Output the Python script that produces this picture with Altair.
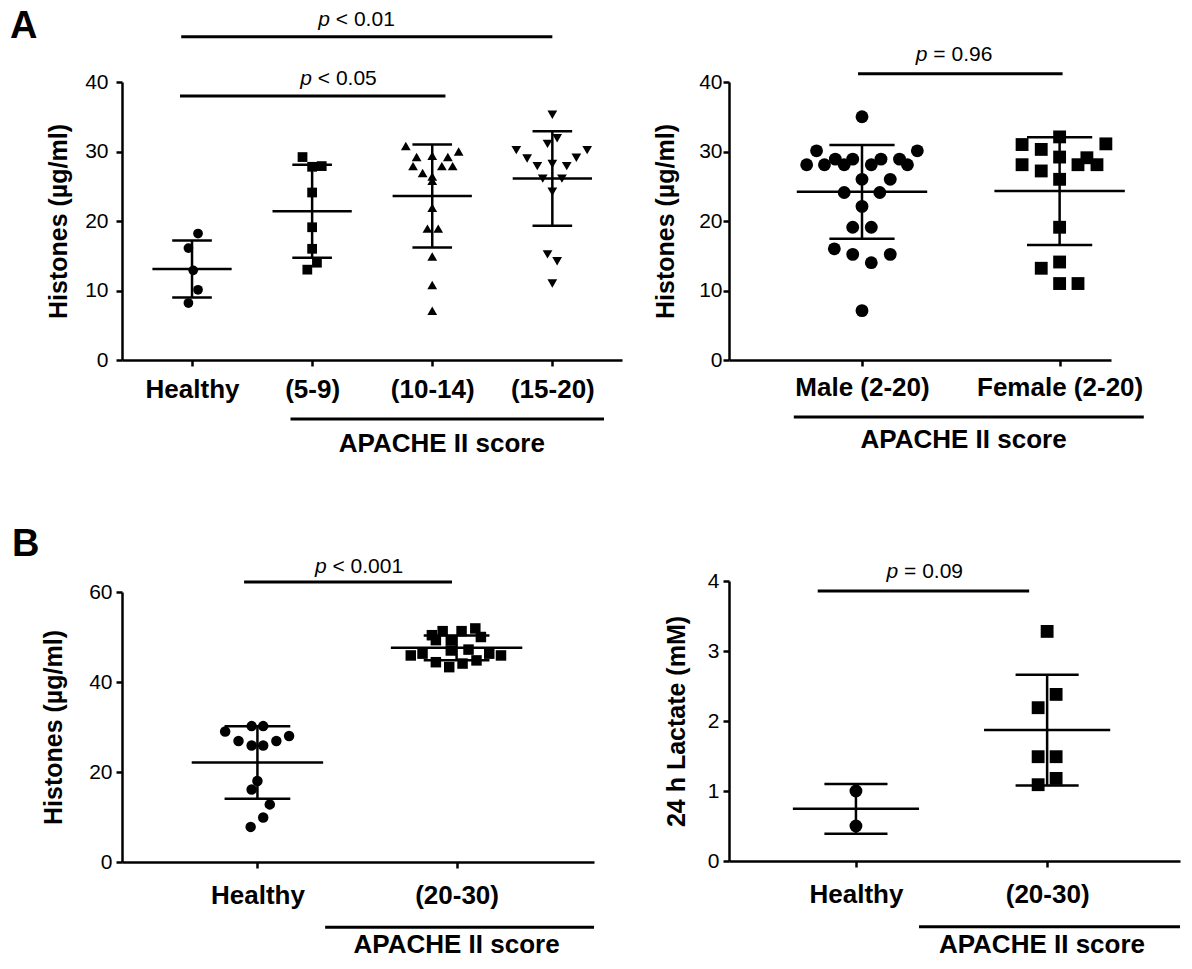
import altair as alt
import pandas as pd

FONT = "Liberation Sans"

# ---------------- Panel A (left): APACHE II groups ----------------
al_cats = ["Healthy", "(5-9)", "(10-14)", "(15-20)"]
al_vals = [
    [18.2, 16.1, 12.9, 10.1, 8.2],
    [29.2, 27.8, 27.9, 24.1, 19.1, 16.0, 14.0, 13.0],
    [30.8, 30.0, 29.4, 29.2, 29.2, 27.9, 27.9, 27.9, 26.9, 26.4, 25.8, 21.9, 18.9, 18.9, 14.9, 10.8, 7.1],
    [35.3, 31.1, 31.9, 30.2, 30.2, 29.0, 29.1, 27.9, 28.2, 27.9, 26.1, 26.1, 24.2, 15.2, 14.2, 11.0],
]
al_jit = [
    [0.05, -0.03, 0.01, 0.05, -0.03],
    [-0.08, 0.0, 0.08, 0.0, 0.0, 0.0, 0.04, -0.04],
    [-0.22, 0.22, 0.0, -0.13, 0.13, -0.16, 0.08, 0.17, -0.08, 0.0, 0.0, 0.0, -0.04, 0.05, 0.0, 0.0, 0.0],
    [0.0, -0.04, 0.04, -0.30, 0.29, -0.21, 0.20, -0.125, 0.0, 0.12, -0.08, 0.08, 0.0, -0.04, 0.04, 0.0],
]
al_mean = [13.1, 21.4, 23.6, 26.1]
al_sd = [4.1, 6.7, 7.4, 6.8]
al_shapes = ["circle", "square", "triangle-up", "triangle-down"]
al_sig = [("< 0.01", -0.09, 3.0, 46.5, 1.37, 48.1), ("< 0.05", -0.10, 2.11, 38.0, 1.22, 39.6)]
al_apache = (0.82, 3.43, -8.5, 2.08, -13.2)

# ---------------- Panel A (right): sex ----------------
ar_cats = ["Male (2-20)", "Female (2-20)"]
ar_vals = [
    [35.0, 30.1, 30.1, 28.1, 28.1, 28.9, 28.1, 28.9, 28.1, 28.9, 28.9, 28.1, 26.0, 26.0, 24.1, 24.1,
     22.1, 19.1, 19.1, 16.0, 15.2, 15.2, 14.0, 7.1],
    [32.1, 31.0, 31.1, 30.3, 29.2, 28.1, 27.2, 26.0, 28.1, 29.1, 28.1, 19.1, 14.1, 13.2, 11.0, 11.0],
]
ar_jit = [
    [0.0, -0.23, 0.28, -0.28, -0.19, -0.135, -0.09, -0.047, 0.047, 0.096, 0.19, 0.23, 0.0, 0.143, -0.09, 0.09,
     0.0, -0.047, 0.047, -0.14, -0.047, 0.143, 0.047, 0.0],
    [0.0, -0.19, 0.234, -0.093, 0.0, -0.19, -0.093, 0.0, 0.093, 0.138, 0.189, 0.0, 0.0, -0.093, 0.0, 0.093],
]
ar_mean = [24.2, 24.3]
ar_sd = [6.75, 7.75]
ar_shapes = ["circle", "square"]
ar_sig = [("= 0.96", -0.02, 1.015, 41.2, 0.466, 43.0)]
ar_apache = (-0.345, 1.426, -8.2, 0.514, -12.6)

# ---------------- Panel B (left): histones ----------------
bl_cats = ["Healthy", "(20-30)"]
bl_vals = [
    [29.0, 30.2, 30.2, 28.0, 26.9, 25.9, 25.9, 26.9, 18.0, 16.1, 12.8, 9.9, 7.8],
    [50.4, 51.3, 51.3, 51.9, 49.3, 49.3, 50.0, 47.0, 47.2, 45.9, 46.3, 44.4, 43.3, 44.1, 44.8, 46.3, 45.9],
]
bl_jit = [
    [-0.162, -0.029, 0.029, 0.159, -0.095, -0.029, 0.029, 0.095, 0.0, -0.029, 0.062, 0.029, -0.034],
    [-0.124, -0.07, 0.025, 0.094, -0.104, -0.029, 0.122, -0.029, 0.06, -0.23, -0.171, -0.104, -0.037, 0.03,
     0.1, 0.164, 0.223],
]
bl_mean = [22.1, 47.6]
bl_sd = [8.05, 2.75]
bl_shapes = ["circle", "square"]
bl_sig = [("< 0.001", -0.067, 0.977, 62.2, 0.51, 64.2)]
bl_apache = (0.34, 1.69, -14.5, 1.0, -20.2)

# ---------------- Panel B (right): lactate ----------------
br_cats = ["Healthy", "(20-30)"]
br_vals = [
    [1.0, 0.5],
    [3.28, 2.38, 2.19, 1.49, 1.49, 1.18, 1.09],
]
br_jit = [
    [0.0, 0.0],
    [0.0, 0.047, -0.047, -0.047, 0.047, 0.047, -0.047],
]
br_mean = [0.745, 1.87]
br_sd = [0.355, 0.79]
br_shapes = ["circle", "square"]
br_sig = [("= 0.09", -0.20, 0.906, 3.856, 0.36, 4.04)]
br_apache = (0.33, 1.695, -0.94, 0.973, -1.31)

CW = {"p": 0.556, " ": 0.278, "<": 0.584, "=": 0.584, ".": 0.278}
PFS = 21
BFS = 26


def text_w(s, fs):
    return sum(CW.get(c, 0.556) for c in s) * fs


def panel(cats, vals, jit, means, sds, shapes, msize, xdom, ydom, yticks, w, h,
          ytitle, ylpad, ytpad, xlpad, sigs, apache, letter=None):
    rows = []
    for i, (vs, js) in enumerate(zip(vals, jit)):
        for v, j in zip(vs, js):
            rows.append({"x": i + j, "v": v, "g": cats[i], "shp": shapes[i]})
    pts = pd.DataFrame(rows)
    st = pd.DataFrame({
        "i": list(range(len(cats))),
        "mean": means,
        "lo": [m - s for m, s in zip(means, sds)],
        "hi": [m + s for m, s in zip(means, sds)],
    })
    st["xl"] = st["i"] - 0.33
    st["xr"] = st["i"] + 0.33
    st["cl"] = st["i"] - 0.165
    st["cr"] = st["i"] + 0.165
    caps = pd.concat([st.assign(c=st["lo"]), st.assign(c=st["hi"])])

    xs = alt.Scale(domain=xdom, nice=False, zero=False)
    ys = alt.Scale(domain=ydom, nice=False, zero=False)
    names = "[" + ",".join("'" + c + "'" for c in cats) + "]"
    xax = alt.Axis(values=list(range(len(cats))), labelExpr=names + "[datum.value]", title=None,
                   grid=False, labelPadding=xlpad, labelFlush=False, labelOverlap=False)
    yax = alt.Axis(values=yticks, title=ytitle, grid=False, labelPadding=ylpad, titlePadding=ytpad)

    def X(f):
        return alt.X(f, type="quantitative", scale=xs, axis=xax)

    def Y(f):
        return alt.Y(f, type="quantitative", scale=ys, axis=yax)

    layers = []
    layers.append(alt.Chart(pts).mark_point(filled=True, color="black", opacity=1, size=msize).encode(
        x=X("x"), y=Y("v"),
        shape=alt.Shape("shp:N", scale=None, legend=None)))
    layers.append(alt.Chart(st).mark_rule(color="black", strokeWidth=2.5).encode(
        x=X("xl"), x2="xr", y=Y("mean")))
    layers.append(alt.Chart(caps).mark_rule(color="black", strokeWidth=2.5).encode(
        x=X("cl"), x2="cr", y=Y("c")))
    layers.append(alt.Chart(st).mark_rule(color="black", strokeWidth=2.5).encode(
        x=X("i"), y=Y("lo"), y2="hi"))

    sg = pd.DataFrame([{"rest": s[0], "x1": s[1], "x2": s[2], "y": s[3], "tx": s[4], "ty": s[5]} for s in sigs])
    layers.append(alt.Chart(sg).mark_rule(color="black", strokeWidth=3).encode(
        x=X("x1"), x2="x2", y=Y("y")))
    rest = sigs[0][0]
    total = text_w("p " + rest, PFS)
    dxp = -total / 2 + CW["p"] * PFS
    layers.append(alt.Chart(sg).mark_text(text="p", fontStyle="italic", font=FONT, fontSize=PFS,
                                          align="right", baseline="alphabetic", dx=dxp, color="black").encode(
        x=X("tx"), y=Y("ty")))
    layers.append(alt.Chart(sg).mark_text(font=FONT, fontSize=PFS, align="left", baseline="alphabetic",
                                          dx=dxp + CW[" "] * PFS, color="black").encode(
        x=X("tx"), y=Y("ty"), text="rest:N"))

    ap = pd.DataFrame([{"x1": apache[0], "x2": apache[1], "y": apache[2], "tx": apache[3], "ty": apache[4],
                        "t": "APACHE II score"}])
    layers.append(alt.Chart(ap).mark_rule(color="black", strokeWidth=3).encode(
        x=X("x1"), x2="x2", y=Y("y")))
    layers.append(alt.Chart(ap).mark_text(font=FONT, fontSize=BFS, fontWeight="bold", align="center",
                                          baseline="alphabetic", color="black").encode(
        x=X("tx"), y=Y("ty"), text="t:N"))
    if letter is not None:
        lt = pd.DataFrame([{"t": letter[0]}])
        layers.append(alt.Chart(lt).mark_text(font=FONT, fontSize=38, fontWeight="bold", align="left",
                                              baseline="alphabetic", color="black").encode(
            x=alt.value(letter[1]), y=alt.value(letter[2]), text="t:N"))
    return alt.layer(*layers).properties(width=w, height=h)


AL = panel(al_cats, al_vals, al_jit, al_mean, al_sd, al_shapes, 95,
           [-0.583, 3.58], [0, 40], [0, 10, 20, 30, 40], 500, 278,
           "Histones (µg/ml)", 8, 13, 10, al_sig, al_apache, ("A", -112, -44))
AR = panel(ar_cats, ar_vals, ar_jit, ar_mean, ar_sd, ar_shapes, 165,
           [-0.673, 1.26], [0, 40], [0, 10, 20, 30, 40], 382, 278,
           "Histones (µg/ml)", 1, 20, 8, ar_sig, ar_apache)
BL = panel(bl_cats, bl_vals, bl_jit, bl_mean, bl_sd, bl_shapes, 110,
           [-0.68, 1.69], [0, 60], [0, 20, 40, 60], 472, 270,
           "Histones (µg/ml)", 4, 22, 14, bl_sig, bl_apache, ("B", -110, -36))
BR = panel(br_cats, br_vals, br_jit, br_mean, br_sd, br_shapes, 165,
           [-0.664, 1.695], [0, 4], [0, 1, 2, 3, 4], 451, 280,
           "24 h Lactate (mM)", 4, 18, 14, br_sig, br_apache)

left_col = alt.vconcat(AL, BL, spacing=232, bounds="flush")
right_col = alt.vconcat(AR, BR, spacing=221, bounds="flush")

chart = alt.hconcat(left_col, right_col, spacing=31).properties(
    padding={"left": 2, "top": 0, "right": 0, "bottom": 0}
).configure_view(stroke=None).configure_axis(
    domainColor="black", domainWidth=2.5, tickColor="black", tickWidth=2.5, tickSize=6,
    labelFont=FONT, titleFont=FONT, labelColor="black", titleColor="black", grid=False
).configure_axisX(
    labelFontSize=BFS, labelFontWeight="bold"
).configure_axisY(
    labelFontSize=21, labelFontWeight="normal", titleFontSize=25, titleFontWeight="bold"
)

chart.save("out.html", embed_options={"renderer": "svg", "actions": False})
